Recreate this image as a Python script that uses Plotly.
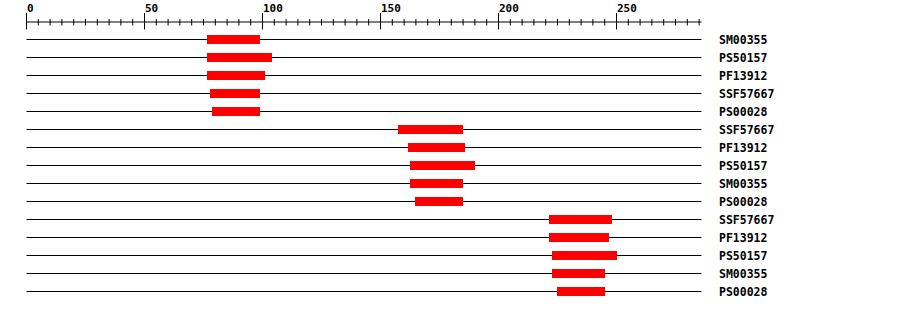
import plotly.graph_objects as go

# ---- data ----
seq_length = 286
row_labels = ["SM00355", "PS50157", "PF13912", "SSF57667", "PS00028",
              "SSF57667", "PF13912", "PS50157", "SM00355", "PS00028",
              "SSF57667", "PF13912", "PS50157", "SM00355", "PS00028"]
starts = [76.5, 76.5, 76.5, 77.8, 78.6,
          157.4, 161.7, 162.5, 162.5, 164.6,
          221.4, 221.4, 222.7, 222.7, 224.8]
ends = [99, 104, 101.1, 99, 99,
        185, 185.8, 190, 185, 185,
        248.1, 246.8, 250.2, 245.1, 245.1]
major_step = 50
minor_step = 5

FONT = "DejaVu Sans Mono"
n = len(row_labels)
rows = list(range(n))

fig = go.Figure()

shapes = []
annotations = []

# track lines (below the bars)
for i in rows:
    shapes.append(dict(type="line", xref="x", yref="y", x0=0, x1=seq_length,
                       y0=i, y1=i, layer="below", line=dict(color="black", width=1)))

# domain bars
fig.add_trace(go.Bar(y=rows, x=[e - s for s, e in zip(starts, ends)], base=starts,
                     orientation="h", width=0.5,
                     marker=dict(color="#ff0000", line=dict(width=0)),
                     hoverinfo="skip", showlegend=False))

axis_y = -0.972
shapes.append(dict(type="line", xref="x", yref="y", x0=0, x1=seq_length,
                   y0=axis_y, y1=axis_y, line=dict(color="black", width=1)))
for t in range(0, seq_length + 1, minor_step):
    if t % major_step == 0:
        y0, y1 = -1.472, -0.556
        annotations.append(dict(x=t, y=-1.75, xref="x", yref="y", text="<b>%d</b>" % t,
                                showarrow=False, xanchor="left", yanchor="middle",
                                xshift=-2,
                                font=dict(family=FONT, size=11, color="black")))
    else:
        y0, y1 = -1.139, -0.778
    shapes.append(dict(type="line", xref="x", yref="y", x0=t, x1=t,
                       y0=y0, y1=y1, line=dict(color="black", width=1)))

for i, lab in zip(rows, row_labels):
    annotations.append(dict(x=294, y=i, xref="x", yref="y", text="<b>%s</b>" % lab,
                            showarrow=False, xanchor="left", yanchor="middle",
                            xshift=-3,
                            font=dict(family=FONT, size=11.5, color="black")))

fig.update_layout(
    width=900, height=310,
    margin=dict(l=0, r=0, t=0, b=0, pad=0),
    paper_bgcolor="white", plot_bgcolor="white",
    xaxis=dict(range=[-11.229, 370.127], visible=False, showgrid=False, zeroline=False),
    yaxis=dict(range=[15.028, -2.1944], visible=False, showgrid=False, zeroline=False),
    shapes=shapes, annotations=annotations, bargap=0,
)

fig.write_html("out.html")
